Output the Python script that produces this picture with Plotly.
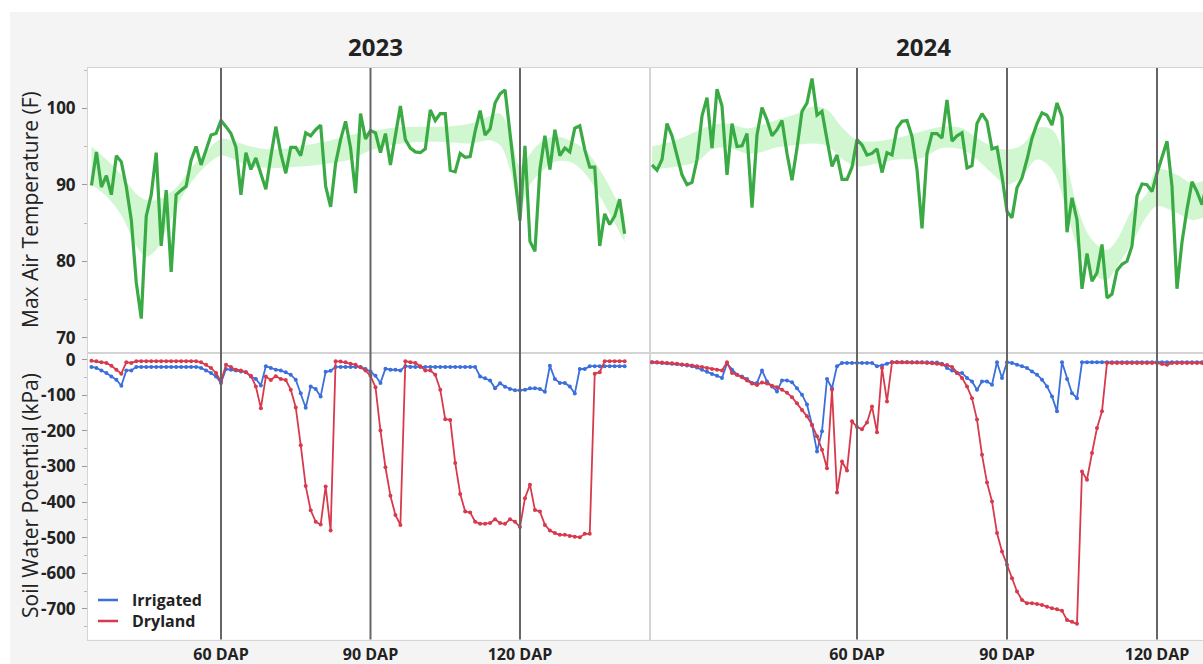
import plotly.graph_objects as go

W, H = 1203, 664
FONT = "Open Sans"
TEXT = "#222222"

# ---------------- data ----------------
# Days after planting (daily records)
temp_days_2023 = list(range(34, 142))
temp_days_2024 = list(range(19, 131))
soil_days_2023 = list(range(34, 142))
soil_days_2024 = list(range(19, 132))

# Max air temperature (F)
temp_2023 = [89.9, 94.3, 89.7, 91.2, 88.7, 93.8, 93.0, 89.7, 85.4, 77.2,
             72.5, 85.9, 88.7, 94.2, 82.0, 89.3, 78.6, 88.7, 89.3, 89.8,
             93.2, 95.0, 92.6, 94.6, 96.5, 96.7, 98.4, 97.6, 96.7, 94.9,
             88.7, 94.2, 92.0, 93.5, 91.5, 89.4, 93.7, 97.6, 94.1, 91.5,
             94.9, 94.9, 93.8, 96.8, 96.4, 97.2, 97.8, 89.8, 87.1, 92.8,
             95.9, 98.3, 94.8, 88.9, 99.3, 96.0, 97.1, 96.8, 94.2, 96.7,
             92.6, 96.7, 100.3, 95.9, 94.8, 94.3, 94.2, 94.7, 99.8, 98.4,
             99.3, 99.3, 91.9, 91.7, 94.1, 93.6, 93.7, 97.0, 99.7, 96.5,
             97.3, 100.7, 101.9, 102.4, 96.5, 91.5, 85.3, 95.1, 82.6, 81.3,
             92.0, 96.4, 92.0, 97.2, 93.8, 94.8, 94.3, 97.4, 97.7, 94.6,
             92.3, 92.3, 82.0, 86.2, 84.8, 85.9, 88.1, 83.6]

temp_2024 = [92.6, 91.9, 93.3, 98.0, 96.4, 93.7, 91.3, 90.0, 90.3, 93.3,
             99.0, 101.4, 94.8, 102.5, 100.3, 91.3, 98.0, 95.0, 95.1, 96.7,
             87.0, 96.5, 100.1, 98.5, 96.4, 97.2, 98.4, 94.1, 90.6, 94.8,
             99.6, 100.7, 103.9, 99.1, 99.6, 95.9, 92.4, 93.9, 90.7, 90.7,
             92.3, 95.9, 95.2, 93.9, 94.1, 94.7, 91.6, 94.2, 93.9, 97.4,
             98.3, 98.4, 96.3, 92.0, 84.3, 94.1, 96.7, 96.7, 96.1, 101.1,
             95.7, 96.4, 96.8, 92.2, 92.5, 98.0, 99.3, 98.3, 94.7, 94.9,
             91.1, 86.5, 85.7, 89.6, 90.9, 93.3, 96.1, 98.0, 99.4, 99.1,
             97.8, 100.7, 98.9, 83.8, 88.3, 85.4, 76.4, 81.0, 77.4, 78.5,
             82.2, 75.2, 75.7, 78.8, 79.6, 80.0, 82.0, 88.5, 90.1, 90.0,
             89.1, 91.5, 93.7, 95.7, 89.8, 76.4, 82.5, 86.8, 90.4, 89.1,
             87.4, 90.2]

# Smoother band around max air temperature (lower / upper, F)
band_days_2023 = [34, 37, 40, 43, 45, 47, 49, 51, 54, 57, 60, 63, 66, 70, 74,
                  78, 82, 86, 90, 95, 100, 105, 110, 114, 116, 118, 120, 122,
                  124, 127, 130, 133, 136, 139, 141]
band_lo_2023 = [90.0, 88.5, 86.0, 82.0, 80.6, 81.5, 84.0, 87.0, 90.3, 92.5,
                93.8, 93.2, 92.4, 92.2, 92.3, 92.5, 92.8, 93.3, 94.5, 95.3,
                95.6, 95.6, 95.4, 95.8, 95.2, 92.0, 87.0, 90.0, 91.5, 93.0,
                93.0, 91.5, 88.5, 85.0, 82.5]
band_hi_2023 = [95.0, 93.3, 91.3, 88.8, 88.0, 88.0, 88.6, 89.6, 92.2, 94.3,
                96.0, 95.6, 95.0, 94.6, 94.8, 95.3, 95.8, 96.5, 97.0, 97.5,
                97.6, 97.6, 98.0, 99.0, 99.3, 97.0, 92.5, 94.0, 95.5, 96.3,
                95.8, 94.6, 92.0, 88.5, 86.0]

band_days_2024 = [19, 24, 28, 31, 34, 38, 41, 44, 48, 51, 54, 57, 60, 64, 68,
                  73, 77, 81, 84, 87, 90, 93, 96, 99, 102, 104, 107, 110, 112,
                  115, 118, 120, 124, 127, 130]
band_lo_2024 = [92.0, 92.4, 93.0, 94.6, 94.9, 94.1, 94.3, 94.9, 95.2, 95.4,
                95.1, 93.4, 92.4, 92.8, 93.3, 93.5, 94.8, 94.6, 93.3, 91.5,
                90.0, 91.1, 93.3, 92.0, 86.5, 82.0, 78.5, 77.6, 79.3, 82.4,
                85.9, 87.2, 86.3, 85.4, 85.9]
band_hi_2024 = [95.0, 95.9, 97.0, 97.8, 98.0, 97.4, 97.8, 98.5, 99.3, 100.2,
                99.8, 97.5, 95.9, 95.7, 96.1, 97.0, 97.6, 97.4, 96.1, 95.0,
                94.6, 95.2, 97.4, 97.2, 92.5, 87.2, 82.8, 81.5, 82.8, 86.7,
                88.9, 92.0, 91.3, 90.2, 90.7]

# Soil water potential (kPa)
irrigated_2023 = [-20, -23, -30, -37, -47, -56, -73,
                  -30, -30, -20, -20, -20, -20, -20, -20, -20, -20, -20, -20, -20, -20, -20,
                  -23, -30, -37, -47, -65,
                  -26, -28, -30, -33, -35, -47, -54, -72, -18, -23,
                  -28, -30, -35, -42, -56, -94, -135, -75, -82, -103,
                  -34, -31, -20, -20, -20, -20, -20, -20, -26, -33,
                  -45, -65, -25, -28, -28, -30, -18, -20, -20, -20,
                  -20, -20, -20, -20, -20, -20, -20, -20, -20, -20,
                  -20, -47, -52, -58, -80, -66, -76, -82, -86, -86,
                  -84, -80, -80, -82, -90, -17, -54, -65, -65, -75,
                  -95, -26, -26, -18, -18, -18, -18, -18, -18, -18, -18]
dryland_2023 = [-3, -4, -7, -9, -17, -28, -39,
                -7, -9, -4, -4, -4, -4, -4, -4, -4, -4, -4, -4, -4, -4, -4,
                -7, -14, -23, -37, -61,
                -14, -20, -28, -30, -35, -45, -75, -136, -47, -57,
                -46, -54, -57, -84, -134, -240, -355, -423, -455, -463,
                -356, -480, -4, -5, -7, -11, -14, -21, -30, -45,
                -77, -199, -302, -382, -436, -464, -4, -7, -9, -18,
                -30, -30, -42, -84, -167, -169, -290, -377, -426, -429,
                -455, -461, -461, -459, -448, -459, -461, -448, -455, -470,
                -389, -351, -422, -426, -464, -480, -487, -492, -492, -495,
                -497, -499, -489, -489, -39, -35, -4, -4, -4, -4, -4]

irrigated_2024 = [-7, -8, -9, -10, -11, -12, -14, -16, -18, -22, -28, -34,
                  -40, -45, -51, -11, -28, -42, -47, -54, -65, -65,
                  -30, -61, -75, -89, -58, -58, -63, -80, -98, -126,
                  -183, -258, -201, -54, -80, -18, -9, -9, -9, -9,
                  -9, -9, -9, -18, -16, -11, -7, -7, -7, -7,
                  -7, -7, -7, -7, -8, -8, -11, -23, -30, -37,
                  -37, -51, -61, -84, -61, -61, -70, -7, -51, -7,
                  -9, -14, -18, -23, -33, -42, -56, -75, -103, -145,
                  -7, -54, -94, -108, -7, -7, -7, -7, -7, -7,
                  -7, -7, -7, -7, -7, -7, -7, -7, -7, -7,
                  -7, -7, -7, -7, -7, -7, -7, -7, -7, -7, -7]
dryland_2024 = [-7, -7, -8, -9, -10, -11, -13, -14, -16, -18, -20, -23,
                -26, -28, -30, -7, -37, -42, -49, -58, -67, -71,
                -64, -67, -73, -77, -84, -93, -105, -122, -141, -159,
                -183, -215, -253, -305, -84, -373, -286, -311, -173, -189,
                -195, -176, -131, -204, -23, -117, -7, -7, -7, -7,
                -8, -8, -8, -9, -10, -11, -13, -15, -20, -37,
                -51, -75, -108, -168, -267, -345, -398, -487, -539, -576,
                -614, -651, -675, -684, -684, -686, -689, -694, -698, -701,
                -705, -731, -736, -742, -314, -337, -262, -192, -145, -9,
                -9, -9, -9, -9, -9, -9, -9, -9, -9, -9,
                -12, -14, -9, -9, -9, -9, -9, -9, -9, -9, -9]

dap_marks = [60, 90, 120]
dap_labels = ["60 DAP", "90 DAP", "120 DAP"]
years = ["2023", "2024"]
temp_ticks = [70, 80, 90, 100]
soil_ticks = [0, -100, -200, -300, -400, -500, -600, -700]
soil_tick_text = ["0", "-100", "-200", "-300", "-400", "-500", "-600", "-700"]

# ---------------- styling ----------------
GREEN = "#3aaa45"
BAND = "rgba(150,238,150,0.45)"
BLUE = "#3b6fdc"
RED = "#d73a4c"
DAP_LINE = "#666666"
FRAME = "#d4d4d4"


def fx(p):
    return p / W


def fy(p):
    return 1 - p / H


# panel geometry (pixels)
LEFT = (88, 650)
RIGHT = (650, 1203)
TOP = (68, 353)
BOTTOM = (353, 639.5)
XR_2023 = [33.31, 146.09]
XR_2024 = [18.6, 129.2]
TEMP_RANGE = [68.0, 105.27]
SOIL_RANGE = [-786, 19]

fig = go.Figure()

panels = [
    ("x", "y", "x3", "y3", temp_days_2023, temp_2023, band_days_2023, band_lo_2023,
     band_hi_2023, soil_days_2023, irrigated_2023, dryland_2023),
    ("x2", "y2", "x4", "y4", temp_days_2024, temp_2024, band_days_2024, band_lo_2024,
     band_hi_2024, soil_days_2024, irrigated_2024, dryland_2024),
]

for (xt, yt, xb, yb, td, tv, bd, blo, bhi, sd, irr, dry) in panels:
    fig.add_trace(go.Scatter(x=bd, y=blo, xaxis=xt, yaxis=yt, mode="lines",
                             line=dict(width=0, shape="spline", smoothing=1.0),
                             hoverinfo="skip", showlegend=False))
    fig.add_trace(go.Scatter(x=bd, y=bhi, xaxis=xt, yaxis=yt, mode="lines",
                             line=dict(width=0, shape="spline", smoothing=1.0),
                             fill="tonexty", fillcolor=BAND,
                             hoverinfo="skip", showlegend=False))
    fig.add_trace(go.Scatter(x=td, y=tv, xaxis=xt, yaxis=yt, mode="lines",
                             line=dict(color=GREEN, width=3.2),
                             name="Max Air Temperature", showlegend=False))
    fig.add_trace(go.Scatter(x=sd, y=irr, xaxis=xb, yaxis=yb, mode="lines+markers",
                             line=dict(color=BLUE, width=1.8),
                             marker=dict(color=BLUE, size=4),
                             name="Irrigated", showlegend=False))
    fig.add_trace(go.Scatter(x=sd, y=dry, xaxis=xb, yaxis=yb, mode="lines+markers",
                             line=dict(color=RED, width=1.8),
                             marker=dict(color=RED, size=4),
                             name="Dryland", showlegend=False))

axis_common = dict(showgrid=False, zeroline=False, showline=True, linecolor=FRAME,
                   linewidth=1, mirror=True)
tick_font = dict(family=FONT, size=17, color=TEXT, weight="bold")
dap_font = dict(family=FONT, size=16, color=TEXT, weight="bold")

layout_axes = {
    "xaxis": dict(domain=[fx(LEFT[0]), fx(LEFT[1])], range=XR_2023, anchor="y",
                  showticklabels=False, ticks="", **axis_common),
    "xaxis2": dict(domain=[fx(RIGHT[0]), fx(RIGHT[1])], range=XR_2024, anchor="y2",
                   showticklabels=False, ticks="", **axis_common),
    "xaxis3": dict(domain=[fx(LEFT[0]), fx(LEFT[1])], range=XR_2023, anchor="y3",
                   tickvals=dap_marks, ticktext=dap_labels, ticks="",
                   tickfont=dap_font, ticklabelstandoff=0, **axis_common),
    "xaxis4": dict(domain=[fx(RIGHT[0]), fx(RIGHT[1])], range=XR_2024, anchor="y4",
                   tickvals=dap_marks, ticktext=dap_labels, ticks="",
                   tickfont=dap_font, ticklabelstandoff=0, **axis_common),
    "yaxis": dict(domain=[fy(TOP[1]), fy(TOP[0])], range=TEMP_RANGE, anchor="x",
                  tickvals=temp_ticks, ticks="outside", ticklen=5, tickcolor="#9a9a9a",
                  minor=dict(dtick=5, tick0=0, ticks="outside", ticklen=3,
                             tickcolor="#bbbbbb"),
                  tickfont=tick_font, ticklabelstandoff=3, **axis_common),
    "yaxis2": dict(domain=[fy(TOP[1]), fy(TOP[0])], range=TEMP_RANGE, anchor="x2",
                   showticklabels=False, ticks="", **axis_common),
    "yaxis3": dict(domain=[fy(BOTTOM[1]), fy(BOTTOM[0])], range=SOIL_RANGE, anchor="x3",
                   tickvals=soil_ticks, ticktext=soil_tick_text,
                   ticks="outside", ticklen=5, tickcolor="#9a9a9a",
                   minor=dict(dtick=50, tick0=0, ticks="outside", ticklen=3,
                              tickcolor="#bbbbbb"),
                   tickfont=tick_font, ticklabelstandoff=3, **axis_common),
    "yaxis4": dict(domain=[fy(BOTTOM[1]), fy(BOTTOM[0])], range=SOIL_RANGE, anchor="x4",
                   showticklabels=False, ticks="", **axis_common),
}

shapes = [
    # grey page backdrop and white plotting panels
    dict(type="rect", xref="paper", yref="paper", x0=fx(10), x1=1, y0=0, y1=fy(12),
         fillcolor="#f4f4f4", line=dict(width=0), layer="below"),
    dict(type="rect", xref="paper", yref="paper", x0=fx(LEFT[0]), x1=1,
         y0=fy(BOTTOM[1]), y1=fy(TOP[0]), fillcolor="white", line=dict(width=0),
         layer="below"),
]

# DAP reference lines through both rows of each year
for xref in ("x3", "x4"):
    for d in dap_marks:
        shapes.append(dict(type="line", xref=xref, yref="paper", x0=d, x1=d,
                           y0=fy(BOTTOM[1]), y1=fy(TOP[0]),
                           line=dict(color=DAP_LINE, width=2), layer="above"))

# legend keys
legend_items = [("Irrigated", BLUE, 600), ("Dryland", RED, 621)]
annotations = []
for label, color, ypx in legend_items:
    shapes.append(dict(type="line", xref="paper", yref="paper", x0=fx(98), x1=fx(118),
                       y0=fy(ypx), y1=fy(ypx), line=dict(color=color, width=2.5)))
    annotations.append(dict(text=label, xref="paper", yref="paper", x=fx(130), y=fy(ypx),
                            xanchor="left", yanchor="middle", showarrow=False,
                            font=dict(family=FONT, size=16, color=TEXT, weight="bold")))

# year titles
for label, xpx in zip(years, [375, 923]):
    annotations.append(dict(text=label, xref="paper", yref="paper", x=fx(xpx), y=fy(47),
                            xanchor="center", yanchor="middle", showarrow=False,
                            font=dict(family=FONT, size=24, color=TEXT, weight="bold")))

# y-axis titles
for label, ypx in [("Max Air Temperature (F)", 210), ("Soil Water Potential (kPa)", 496)]:
    annotations.append(dict(text=label, xref="paper", yref="paper", x=fx(30), y=fy(ypx),
                            xanchor="center", yanchor="middle", textangle=-90,
                            showarrow=False,
                            font=dict(family=FONT, size=21, color=TEXT)))

fig.update_layout(
    width=W, height=H, margin=dict(l=0, r=0, t=0, b=0, autoexpand=False),
    paper_bgcolor="white", plot_bgcolor="rgba(0,0,0,0)",
    showlegend=False, shapes=shapes, annotations=annotations,
    font=dict(family=FONT, color=TEXT),
    **layout_axes,
)

fig.write_html("out.html")
